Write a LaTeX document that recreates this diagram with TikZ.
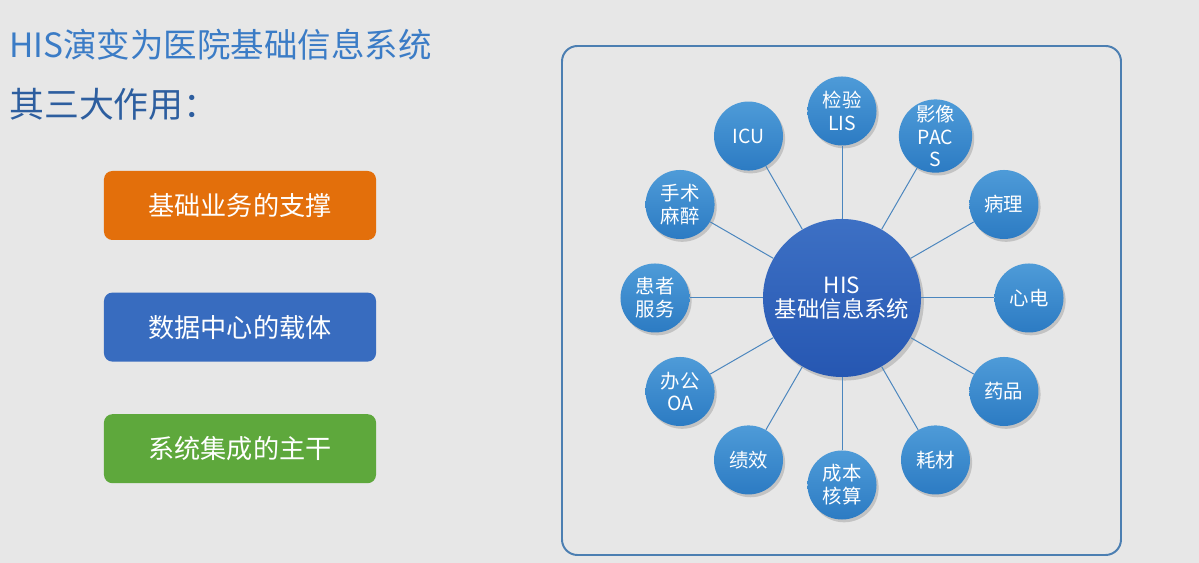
\documentclass[tikz,border=0pt]{standalone}
\usepackage{fontspec}
\setmainfont{Noto Sans CJK SC}
\usetikzlibrary{calc,positioning}
\usetikzlibrary{shadows}
\usepackage{xcolor}
\definecolor{bgray}{HTML}{E7E7E7}
\definecolor{titleblue}{HTML}{3B7CC6}
\definecolor{subblue}{HTML}{2D5E9F}
\definecolor{boxorange}{HTML}{E36F0B}
\definecolor{boxblue}{HTML}{386CBF}
\definecolor{boxgreen}{HTML}{5EA83C}
\definecolor{framblue}{HTML}{4C7FB2}
\definecolor{hubtop}{HTML}{3D70C4}
\definecolor{hubbot}{HTML}{2657B2}
\definecolor{subtop}{HTML}{4E9BD8}
\definecolor{subbot}{HTML}{2C7BC3}
\definecolor{spokeblue}{HTML}{4B86BE}
\begin{document}
\begin{tikzpicture}[x=0.025cm,y=0.025cm,
  rolebox/.style={rounded corners=6pt,minimum width=6.8cm,minimum height=1.725cm,
    text=white,font=\fontsize{18.6pt}{22pt}\selectfont},
  sub/.style={circle,minimum size=1.725cm,inner sep=0pt,top color=subtop,
    bottom color=subbot,text=white,align=center,
    font=\fontsize{13.8pt}{16.3pt}\selectfont,
    drop shadow={shadow xshift=1.5pt,shadow yshift=-2pt,opacity=.35}},
  spoke/.style={draw=spokeblue,line width=.7pt}]
\fill[bgray] (0,0) rectangle (1199,563);
\node[anchor=base west,inner sep=0pt,text=titleblue,
  font=\fontsize{23.8pt}{28pt}\selectfont] (title) at (9,505) {HIS演变为医院基础信息系统};
\node[anchor=base west,inner sep=0pt,text=subblue,
  font=\fontsize{24.8pt}{28pt}\selectfont] (roles) at (9,445) {其三大作用：};
\node[rolebox,fill=boxorange] (base) at (240,357.5) {基础业务的支撑};
\node[rolebox,fill=boxblue,below=1.3cm of base] (data) {数据中心的载体};
\node[rolebox,fill=boxgreen,below=1.3cm of data] (integ) {系统集成的主干};
\draw[framblue,line width=1.4pt,rounded corners=11pt] (562,8) rectangle (1121,517);
\node[circle,minimum size=3.95cm,inner sep=0pt,top color=hubtop,bottom color=hubbot,
  text=white,align=center,font=\fontsize{15.9pt}{16.5pt}\selectfont,
  drop shadow={shadow xshift=2pt,shadow yshift=-2.5pt,opacity=.35}]
  (his) at (842,265) {HIS\\基础信息系统};
\node[sub] (lis) at ($(his)+(90:187)$) {检验\\LIS};
\node[sub] (pacs) at ($(his)+(60:187)$) {影像\\PAC\\S};
\node[sub] (path) at ($(his)+(30:187)$) {病理};
\node[sub] (ecg) at ($(his)+(0:187)$) {心电};
\node[sub] (drug) at ($(his)+(-30:187)$) {药品};
\node[sub] (mat) at ($(his)+(-60:187)$) {耗材};
\node[sub] (cost) at ($(his)+(-90:187)$) {成本\\核算};
\node[sub] (perf) at ($(his)+(-120:187)$) {绩效};
\node[sub] (oa) at ($(his)+(-150:187)$) {办公\\OA};
\node[sub] (pat) at ($(his)+(180:187)$) {患者\\服务};
\node[sub] (anes) at ($(his)+(150:187)$) {手术\\麻醉};
\node[sub] (icu) at ($(his)+(120:187)$) {ICU};
\draw[spoke] (his) -- (lis);
\draw[spoke] (his) -- (pacs);
\draw[spoke] (his) -- (path);
\draw[spoke] (his) -- (ecg);
\draw[spoke] (his) -- (drug);
\draw[spoke] (his) -- (mat);
\draw[spoke] (his) -- (cost);
\draw[spoke] (his) -- (perf);
\draw[spoke] (his) -- (oa);
\draw[spoke] (his) -- (pat);
\draw[spoke] (his) -- (anes);
\draw[spoke] (his) -- (icu);
\end{tikzpicture}
\end{document}
